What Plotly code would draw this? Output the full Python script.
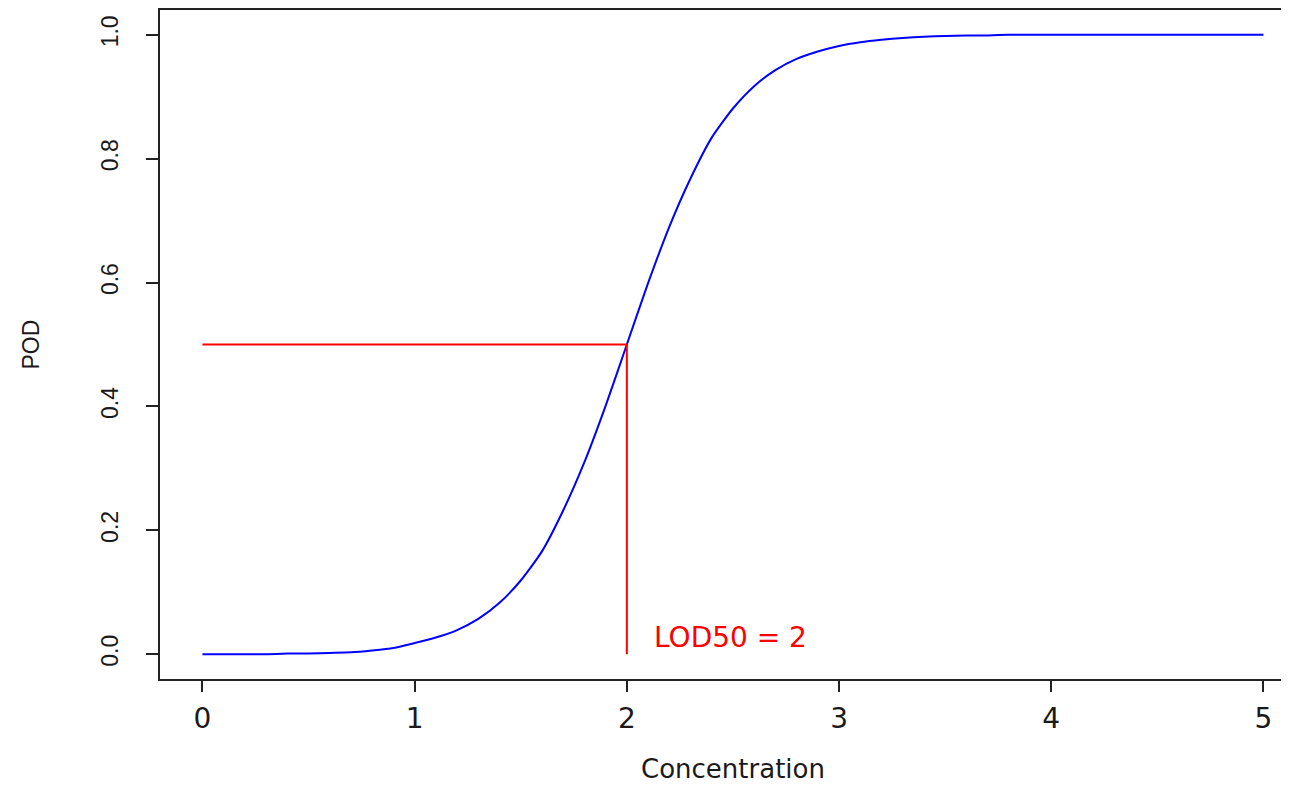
import plotly.graph_objects as go

# Data
concentration = [0.0, 0.1, 0.2, 0.3, 0.4, 0.5, 0.6, 0.7, 0.8, 0.9,
                 1.0, 1.1, 1.2, 1.3, 1.4, 1.5, 1.6, 1.7, 1.8, 1.9,
                 2.0, 2.1, 2.2, 2.3, 2.4, 2.5, 2.6, 2.7, 2.8, 2.9,
                 3.0, 3.1, 3.2, 3.3, 3.4, 3.5, 3.6, 3.7, 3.8, 3.9,
                 4.0, 4.1, 4.2, 4.3, 4.4, 4.5, 4.6, 4.7, 4.8, 4.9, 5.0]
pod = [0.000, 0.000, 0.000, 0.000, 0.001, 0.001, 0.002, 0.003, 0.006, 0.010,
       0.018, 0.027, 0.039, 0.057, 0.083, 0.119, 0.166, 0.232, 0.310, 0.401,
       0.500, 0.599, 0.690, 0.768, 0.834, 0.881, 0.917, 0.943, 0.961, 0.973,
       0.982, 0.988, 0.992, 0.995, 0.997, 0.998, 0.999, 0.999, 1.000, 1.000,
       1.000, 1.000, 1.000, 1.000, 1.000, 1.000, 1.000, 1.000, 1.000, 1.000, 1.000]

lod50 = 2
lod_level = 0.5
lod_x = [0, lod50, lod50]
lod_y = [lod_level, lod_level, 0]
lod_label = "LOD50 = 2"

x_ticks = [0, 1, 2, 3, 4, 5]
y_ticks = [0.0, 0.2, 0.4, 0.6, 0.8, 1.0]
y_tick_text = ["0.0", "0.2", "0.4", "0.6", "0.8", "1.0"]

HFONT = "DejaVu Sans, sans-serif"
VFONT = "Liberation Sans, Arial, sans-serif"
TXT = "#1a1a1a"

fig = go.Figure()
fig.add_trace(go.Scatter(x=concentration, y=pod, mode="lines",
                         line=dict(color="#0000FF", width=2, shape="spline", smoothing=0.6),
                         showlegend=False, hoverinfo="skip"))
fig.add_trace(go.Scatter(x=lod_x, y=lod_y, mode="lines",
                         line=dict(color="#FF0000", width=2), showlegend=False,
                         hoverinfo="skip"))

fig.add_annotation(x=2.49, y=0.027, xref="x", yref="y", text=lod_label,
                   showarrow=False, font=dict(family=HFONT, size=28, color="#FF0000"),
                   xanchor="center", yanchor="middle")
fig.add_annotation(x=2.5, y=0, xref="x", yref="paper", text="Concentration",
                   showarrow=False, font=dict(family=HFONT, size=26, color=TXT),
                   xanchor="center", yanchor="middle", yshift=-90, borderpad=0)
fig.add_annotation(x=0, y=0.5, xref="paper", yref="paper", text="POD",
                   showarrow=False, font=dict(family=VFONT, size=23, color=TXT),
                   textangle=-90, xanchor="center", yanchor="middle", xshift=-130)

fig.update_layout(
    width=1281, height=777,
    margin=dict(l=152, r=0, t=0, b=106),
    paper_bgcolor="white", plot_bgcolor="white",
    font=dict(family=HFONT, color=TXT),
    xaxis=dict(range=[-0.2, -0.2 + 1129 / 212.2], tickmode="array", tickvals=x_ticks,
               ticktext=[str(v) for v in x_ticks],
               showgrid=False, zeroline=False, showline=True, linecolor="#222",
               linewidth=2, mirror=True, ticks="outside", ticklen=11, tickwidth=2,
               tickcolor="#222", tickfont=dict(family=HFONT, size=28, color=TXT),
               ticklabelstandoff=2),
    yaxis=dict(range=[-0.04, 1.04], tickmode="array", tickvals=y_ticks,
               ticktext=y_tick_text, tickangle=-90,
               showgrid=False, zeroline=False, showline=True, linecolor="#222",
               linewidth=2, ticks="outside", ticklen=12, tickwidth=2,
               tickcolor="#222", tickfont=dict(family=VFONT, size=23, color=TXT),
               ticklabelstandoff=19),
)

fig.write_html("out.html")
